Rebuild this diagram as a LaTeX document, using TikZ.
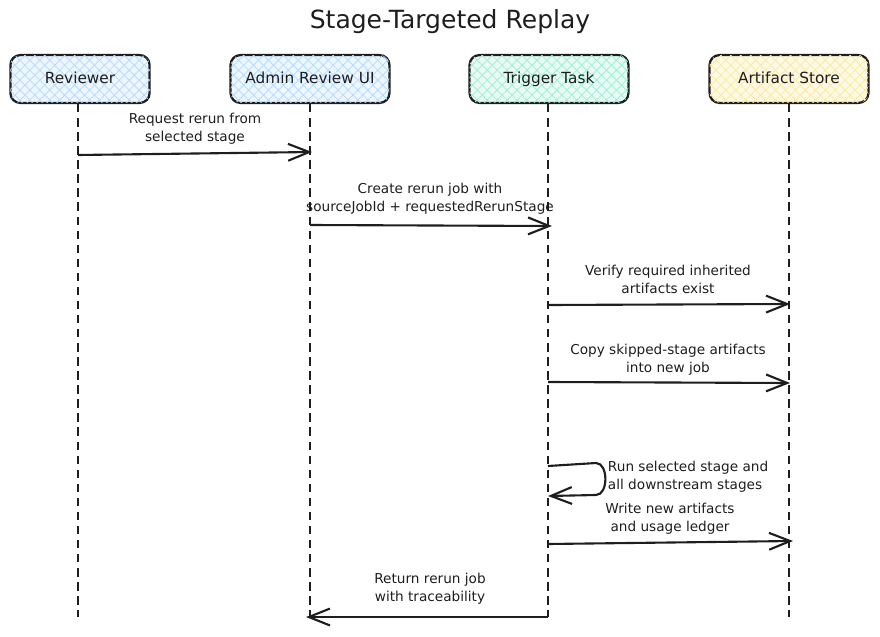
\documentclass[tikz,border=0pt]{standalone}
\usepackage{fontspec}
\setmainfont{DejaVu Sans}
\usepackage{tikz}
\usetikzlibrary{arrows.meta}
\usetikzlibrary{patterns.meta}

\definecolor{ink}{HTML}{1E1E1E}
\definecolor{bluefill}{HTML}{EEF7FF}
\definecolor{bluehatch}{HTML}{B5DCFF}
\definecolor{greenfill}{HTML}{EAFBF5}
\definecolor{greenhatch}{HTML}{A0EFD6}
\definecolor{yellowfill}{HTML}{FFFAE6}
\definecolor{yellowhatch}{HTML}{FFE99A}

\tikzset{
  actor/.style 2 args={draw=ink, line width=1.6pt, rounded corners=7pt,
    minimum width=100pt, minimum height=34pt, text=ink,
    text height=1.6ex, text depth=0.4ex,
    font=\fontsize{10.9}{13}\selectfont, fill=#1,
    postaction={pattern={Lines[angle=45,distance=5pt,line width=0.6pt]}, pattern color=#2},
    postaction={pattern={Lines[angle=-45,distance=5pt,line width=0.6pt]}, pattern color=#2}},
  lifeline/.style={draw=ink, line width=1.1pt, dash pattern=on 6pt off 4pt},
  msg/.style={draw=ink, line width=1.5pt,
    -{Straight Barb[length=15pt,width=12pt,line width=1.5pt]}},
  lbl/.style={text=ink, align=center, font=\fontsize{9.7}{12.8}\selectfont}
}

\begin{document}
\begin{tikzpicture}[x=0.025cm, y=-0.025cm]

  \useasboundingbox (0,0) rectangle (880,637);

  \node[text=ink, font=\fontsize{17.8}{20}\selectfont] (title) at (450,22) {Stage-Targeted Replay};

  \node[actor={bluefill}{bluehatch}, minimum width=99pt] (rv) at (80,79) {Reviewer};
  \node[actor={bluefill}{bluehatch}, minimum width=113pt] (ui) at (310,79) {Admin Review UI};
  \node[actor={greenfill}{greenhatch}, minimum width=113pt] (tt) at (549,79) {Trigger Task};
  \node[actor={yellowfill}{yellowhatch}, minimum width=113pt] (as) at (789,79) {Artifact Store};

  \coordinate (rvend) at (78,617);
  \coordinate (uiend) at (310,617);
  \coordinate (ttend) at (548,617);
  \coordinate (asend) at (789,617);

  \draw[lifeline] (rv.south -| rvend) -- (rvend);
  \draw[lifeline] (ui.south -| uiend) -- (uiend);
  \draw[lifeline] (tt.south -| ttend) -- (ttend);
  \draw[lifeline] (as.south -| asend) -- (asend);

  % message end points on the lifelines
  \coordinate (m1a) at (78,155);
  \coordinate (m1b) at (312,152);
  \coordinate (m2a) at (310,225);
  \coordinate (m2b) at (552,226);
  \coordinate (m3a) at (548,305);
  \coordinate (m3b) at (790,304);
  \coordinate (m4a) at (548,382);
  \coordinate (m4b) at (790,383);
  \coordinate (m5a) at (548,466);
  \coordinate (m5b) at (548,496);
  \coordinate (m6a) at (548,544);
  \coordinate (m6b) at (793,541);
  \coordinate (m7a) at (548,617);
  \coordinate (m7b) at (306,617);

%  \draw (m5a) node {m5a};
%  \draw (m5b) node {m5b};

  \draw[msg] (m1a) -- (m1b);
  \node[lbl] (l1) at (195,129) {Request rerun from\\selected stage};

  \draw[msg] (m2a) -- (m2b);
  \node[lbl] (l2) at (430,199) {Create rerun job with\\sourceJobId + requestedRerunStage};

  \draw[msg] (m3a) -- (m3b);
  \node[lbl] (l3) at (668,279) {Verify required inherited\\artifacts exist};

  \draw[msg] (m4a) -- (m4b);
  \node[lbl] (l4) at (668,360) {Copy skipped-stage artifacts\\into new job};

  \draw[msg] (m5a) -- (596,463) to[out=0,in=0] (596,495) -- (m5b);
  \node[lbl, align=left, anchor=west] (l5) at (603,477) {Run selected stage and\\all downstream stages};

  \draw[msg] (m6a) -- (m6b);
  \node[lbl] (l6) at (670,519) {Write new artifacts\\and usage ledger};

  \draw[msg] (m7a) -- (m7b);
  \node[lbl] (l7) at (430,589) {Return rerun job\\with traceability};

\end{tikzpicture}
\end{document}
